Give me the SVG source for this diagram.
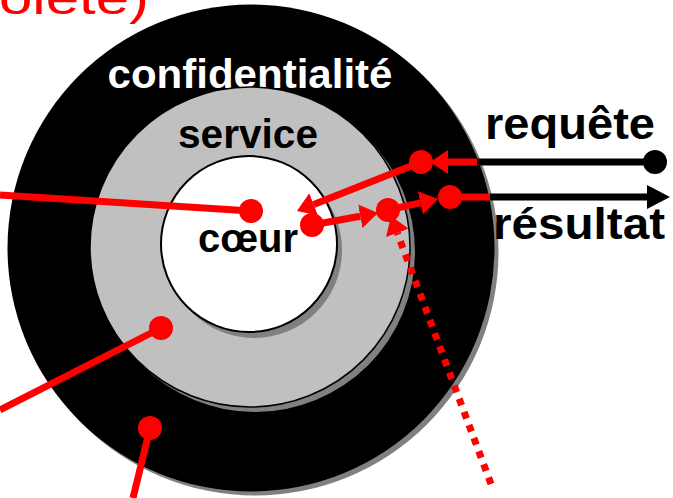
<svg xmlns="http://www.w3.org/2000/svg" width="673" height="498" viewBox="0 0 673 498">
<style>
text{font-family:"Liberation Sans",Arial,sans-serif;font-weight:bold}
.lbl{font-size:40px;text-anchor:middle}
.red{stroke:#FF0000;stroke-width:7;fill:none}
.blk{stroke:#000;stroke-width:7;fill:none}
.dot{fill:#FF0000}
.shadow{fill:#808080}
</style>
<defs>
<marker id="ar" viewBox="0 0 18 24" refX="0" refY="12" markerWidth="18" markerHeight="24" markerUnits="userSpaceOnUse" orient="auto"><path d="M0,0 L18,12 L0,24 Z" fill="#FF0000"/></marker>
<marker id="ab" viewBox="0 0 23 24" refX="0" refY="12" markerWidth="23" markerHeight="24" markerUnits="userSpaceOnUse" orient="auto"><path d="M0,0 L23,12 L0,24 Z" fill="#000"/></marker>
</defs>
<rect width="673" height="498" fill="#fff"/>
<text x="149" y="14" fill="#FF0000" style="font-weight:normal;font-size:46px;text-anchor:end" textLength="150" lengthAdjust="spacingAndGlyphs">olète)</text>
<g id="confidentialite">
<circle class="shadow" cx="255" cy="252" r="243.5"/>
<circle cx="251" cy="248" r="243.5" fill="#000"/>
<text class="lbl" x="250" y="88" fill="#fff" textLength="285" lengthAdjust="spacingAndGlyphs">confidentialité</text>
</g>
<g id="service">
<circle class="shadow" cx="255" cy="252" r="160"/>
<circle cx="250" cy="247" r="160" fill="#C0C0C0" stroke="#000" stroke-width="1.5"/>
<text class="lbl" x="248" y="148" fill="#000" textLength="140" lengthAdjust="spacingAndGlyphs">service</text>
</g>
<g id="coeur">
<circle class="shadow" cx="254" cy="250" r="88"/>
<circle cx="249" cy="244" r="88" fill="#fff" stroke="#000" stroke-width="2"/>
<text class="lbl" x="248" y="252" fill="#000" textLength="100" lengthAdjust="spacingAndGlyphs">cœur</text>
</g>
<g id="requete">
<text class="lbl" x="570" y="139" fill="#000" style="font-size:44px" textLength="170" lengthAdjust="spacingAndGlyphs">requête</text>
</g>
<g id="resultat">
<text class="lbl" x="579" y="239" fill="#000" style="font-size:44px" textLength="172" lengthAdjust="spacingAndGlyphs">résultat</text>
</g>
<g id="connectors">
<path class="red" d="M0,195 L251,211"/>
<circle class="dot" cx="251" cy="211" r="12"/>
<path class="red" d="M0,410 L161,328"/>
<circle class="dot" cx="161" cy="328" r="12"/>
<path class="red" d="M133,498 L150,428"/>
<circle class="dot" cx="150" cy="428" r="12"/>
<path class="red" d="M491,484 L397.3,232.9" stroke-dasharray="7 7" marker-end="url(#ar)"/>
<path class="blk" d="M655,162 L477,162"/>
<circle cx="655" cy="162" r="12" fill="#000"/>
<path class="red" d="M477,162 L448,162" marker-end="url(#ar)"/>
<circle class="dot" cx="421" cy="162" r="12"/>
<path class="red" d="M421,162 L313.7,204.4" marker-end="url(#ar)"/>
<path class="red" d="M312,225 L360.3,216.2" marker-end="url(#ar)"/>
<circle class="dot" cx="312" cy="225" r="12"/>
<path class="red" d="M388,210 L420.4,202.9" marker-end="url(#ar)"/>
<circle class="dot" cx="388" cy="210" r="12"/>
<path class="red" d="M450,197 L490,197"/>
<circle class="dot" cx="450" cy="197" r="12"/>
<path class="blk" d="M490,197 L647,197" marker-end="url(#ab)"/>
</g>
</svg>
